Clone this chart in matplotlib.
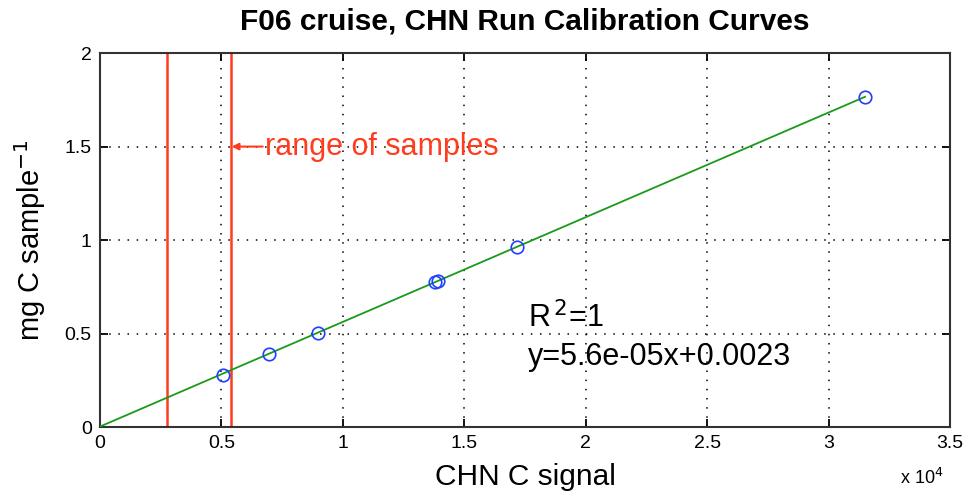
import numpy as np
import matplotlib.pyplot as plt

plt.rcParams.update({
    'font.family': ['Liberation Sans', 'DejaVu Sans'],
    'xtick.direction': 'in',
    'ytick.direction': 'in',
})

# calibration standards
chn_signal = [5050, 6950, 8980, 13780, 13900, 17180, 31500]
mg_carbon = [0.28, 0.39, 0.505, 0.775, 0.782, 0.965, 1.765]

# linear fit shown on the chart
fit_slope = 5.6e-05
fit_icept = 0.0023

# range of sample signals
sample_range = [2770, 5380]

xtick_vals = [0, 5000, 10000, 15000, 20000, 25000, 30000, 35000]
xtick_labels = ['0', '0.5', '1', '1.5', '2', '2.5', '3', '3.5']
ytick_vals = [0, 0.5, 1, 1.5, 2]
ytick_labels = ['0', '0.5', '1', '1.5', '2']

red = '#ff3c1e'

fig = plt.figure(figsize=(9.66, 5.01), dpi=100)
ax = fig.add_axes([0.1035, 0.1477, 0.88, 0.7463])

xfit = np.array([0, max(chn_signal)])
ax.plot(xfit, fit_slope * xfit + fit_icept, color='#1a9a1a', lw=1.3, zorder=3)
ax.plot(chn_signal, mg_carbon, 'o', mfc='none', mec='#2040ff', ms=9, mew=1.2, zorder=4)

for xv in sample_range:
    ax.axvline(xv, color=red, lw=1.8, zorder=2)

# "<- range of samples" label
ax.annotate('', xy=(sample_range[1] + 40, 1.5), xytext=(6700, 1.5),
            arrowprops=dict(arrowstyle='-|>', color=red, lw=1.5,
                            mutation_scale=10, shrinkA=0, shrinkB=0), zorder=5)
ax.text(6800, 1.5, 'range of samples', color=red, fontsize=22,
        va='center', ha='left', zorder=5)

ax.text(17620, 0.535, 'R$^{\\,2}$=1', fontsize=22, va='baseline', ha='left')
ax.text(17620, 0.33, 'y=5.6e-05x+0.0023', fontsize=22, va='baseline', ha='left')

ax.set_xlim(0, 35000)
ax.set_ylim(0, 2)
ax.set_xticks(xtick_vals)
ax.set_xticklabels(xtick_labels, fontsize=14)
ax.set_yticks(ytick_vals)
ax.set_yticklabels(ytick_labels, fontsize=14)
ax.tick_params(length=6, width=1.3, top=True, right=True, pad=6)
ax.grid(True, color='black', linestyle=(0, (1, 5)), lw=1.1)
for s in ax.spines.values():
    s.set_linewidth(1.5)
    s.set_color('#333333')

ax.text(0.992, -0.135, 'x 10$^{4}$', transform=ax.transAxes, fontsize=13,
        ha='right', va='center')

ax.set_xlabel('CHN C signal', fontsize=21.5, labelpad=8)
ax.set_ylabel('mg C sample$^{-1}$', fontsize=21, labelpad=12)
ax.set_title('F06 cruise, CHN Run Calibration Curves', fontsize=21.5,
             fontweight='bold', pad=17)

fig.savefig('out.png', dpi=100)
